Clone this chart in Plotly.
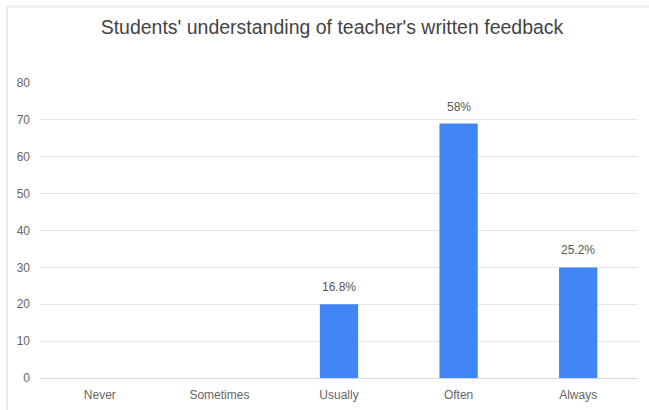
import plotly.graph_objects as go

categories = ["Never", "Sometimes", "Usually", "Often", "Always"]
values = [0, 0, 20, 69, 30]
labels = ["", "", "16.8%", "58%", "25.2%"]
y_ticks = [0, 10, 20, 30, 40, 50, 60, 70, 80]

W, H = 649, 410
L, R, T, B = 40, 11, 83, 32
pw = W - L - R
ph = H - T - B
FONT = "Liberation Sans, Arial"

fig = go.Figure(go.Bar(
    x=categories, y=values,
    marker=dict(color="#4285F4", line=dict(width=0)),
))

annotations = [
    dict(x=c, y=v, text=t, showarrow=False, xref="x", yref="y",
         yanchor="bottom", yshift=8,
         font=dict(family=FONT, size=12, color="#555555"))
    for c, v, t in zip(categories, values, labels) if t
]

fig.update_layout(
    width=W, height=H,
    margin=dict(l=L, r=R, t=T, b=B),
    paper_bgcolor="white", plot_bgcolor="white",
    bargap=0.68,
    showlegend=False,
    font=dict(family=FONT, size=12, color="#666666"),
    title=dict(text="Students' understanding of teacher's written feedback",
               x=332 / W, xanchor="center", y=1 - 27 / H, yanchor="middle",
               font=dict(family=FONT, size=19.5, color="#444444")),
    xaxis=dict(showgrid=False, showline=False, ticks="", ticklabelstandoff=8,
               automargin=False, tickfont=dict(size=12, color="#666666")),
    yaxis=dict(range=[0, 80], tickvals=y_ticks, showgrid=True, gridcolor="#e6e6e6",
               gridwidth=1, zeroline=True, zerolinecolor="#d9d9d9", zerolinewidth=1,
               showline=False, ticks="", ticklabelstandoff=9, automargin=False,
               tickfont=dict(size=12, color="#666666")),
    annotations=annotations,
    shapes=[
        dict(type="line", xref="paper", yref="paper",
             x0=(7 - L) / pw, x1=(649 - L) / pw, y0=1 + (T - 6.5) / ph, y1=1 + (T - 6.5) / ph,
             line=dict(color="#ececec", width=2)),
        dict(type="line", xref="paper", yref="paper",
             x0=(7 - L) / pw, x1=(7 - L) / pw, y0=1 + (T - 6.5) / ph, y1=(H - T - 410) / ph,
             line=dict(color="#ececec", width=2)),
    ],
)

fig.write_html("out.html")
